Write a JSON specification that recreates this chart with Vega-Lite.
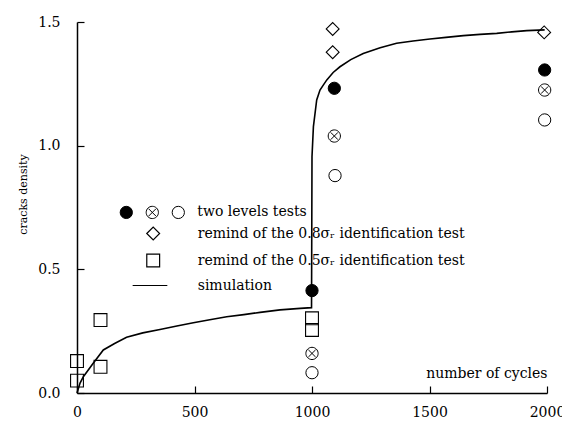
{
  "$schema": "https://vega.github.io/schema/vega-lite/v6.json",
  "width": 470,
  "height": 371,
  "autosize": "none",
  "padding": {"left": 77, "top": 22, "right": 15, "bottom": 30},
  "background": "white",
  "config": {
    "view": {"stroke": null},
    "font": "DejaVu Serif",
    "axis": {
      "grid": false,
      "domainColor": "black",
      "domainWidth": 1.5,
      "tickColor": "black",
      "tickWidth": 1.2,
      "tickSize": -7,
      "labelFont": "DejaVu Serif",
      "labelFontSize": 14,
      "labelColor": "black",
      "titleFont": "DejaVu Serif",
      "titleFontWeight": "normal",
      "titleColor": "black",
      "labelFlush": false,
      "labelOverlap": false
    },
    "legend": {
      "labelFont": "DejaVu Serif",
      "labelFontSize": 14,
      "labelColor": "black",
      "labelLimit": 400,
      "padding": 0,
      "symbolStrokeColor": "black",
      "symbolStrokeWidth": 1,
      "symbolOpacity": 1
    }
  },
  "datasets": {
    "sim": [
      {"cycles": 0, "density": 0},
      {"cycles": 13, "density": 0.04},
      {"cycles": 27, "density": 0.066},
      {"cycles": 69, "density": 0.12},
      {"cycles": 112, "density": 0.174},
      {"cycles": 160, "density": 0.2},
      {"cycles": 211, "density": 0.225},
      {"cycles": 280, "density": 0.243},
      {"cycles": 353, "density": 0.257},
      {"cycles": 425, "density": 0.271},
      {"cycles": 495, "density": 0.284},
      {"cycles": 565, "density": 0.296},
      {"cycles": 637, "density": 0.308},
      {"cycles": 710, "density": 0.317},
      {"cycles": 779, "density": 0.326},
      {"cycles": 864, "density": 0.336},
      {"cycles": 950, "density": 0.342},
      {"cycles": 998, "density": 0.345},
      {"cycles": 1000, "density": 0.955},
      {"cycles": 1006, "density": 1.077},
      {"cycles": 1020, "density": 1.185},
      {"cycles": 1034, "density": 1.225},
      {"cycles": 1048, "density": 1.245},
      {"cycles": 1063, "density": 1.266},
      {"cycles": 1090, "density": 1.296},
      {"cycles": 1119, "density": 1.319},
      {"cycles": 1165, "density": 1.348},
      {"cycles": 1218, "density": 1.373},
      {"cycles": 1290, "density": 1.396},
      {"cycles": 1360, "density": 1.414},
      {"cycles": 1430, "density": 1.423},
      {"cycles": 1502, "density": 1.431},
      {"cycles": 1570, "density": 1.438},
      {"cycles": 1644, "density": 1.445},
      {"cycles": 1715, "density": 1.45},
      {"cycles": 1786, "density": 1.454},
      {"cycles": 1850, "density": 1.46},
      {"cycles": 1914, "density": 1.465},
      {"cycles": 1990, "density": 1.468}
    ],
    "levels": [
      {"cycles": 1000, "density": 0.414, "level": "solid"},
      {"cycles": 1095, "density": 1.232, "level": "solid"},
      {"cycles": 1990, "density": 1.306, "level": "solid"},
      {"cycles": 1000, "density": 0.16, "level": "crossed"},
      {"cycles": 1095, "density": 1.039, "level": "crossed"},
      {"cycles": 1990, "density": 1.225, "level": "crossed"},
      {"cycles": 1000, "density": 0.082, "level": "open"},
      {"cycles": 1098, "density": 0.879, "level": "open"},
      {"cycles": 1990, "density": 1.104, "level": "open"}
    ],
    "remind": [
      {"cycles": 1088, "density": 1.472, "test": "r08"},
      {"cycles": 1088, "density": 1.378, "test": "r08"},
      {"cycles": 1988, "density": 1.458, "test": "r08"},
      {"cycles": 0, "density": 0.129, "test": "r05"},
      {"cycles": 0, "density": 0.05, "test": "r05"},
      {"cycles": 100, "density": 0.295, "test": "r05"},
      {"cycles": 100, "density": 0.106, "test": "r05"},
      {"cycles": 1000, "density": 0.302, "test": "r05"},
      {"cycles": 1000, "density": 0.255, "test": "r05"}
    ]
  },
  "encoding": {
    "x": {
      "field": "cycles",
      "type": "quantitative",
      "scale": {"domain": [0, 2000], "nice": false},
      "axis": {
        "title": "number of cycles",
        "values": [0, 500, 1000, 1500, 2000],
        "format": "d",
        "labelPadding": 19,
        "titleFontSize": 14,
        "titleAnchor": "end",
        "titleAlign": "right",
        "titleBaseline": "alphabetic",
        "titleX": 470,
        "titleY": -16
      }
    },
    "y": {
      "field": "density",
      "type": "quantitative",
      "scale": {"domain": [0, 1.5], "nice": false},
      "axis": {
        "title": "cracks density",
        "values": [0, 0.5, 1, 1.5],
        "format": ".1f",
        "labelPadding": 24,
        "titleFontSize": 11,
        "titleAngle": -90,
        "titleAlign": "center",
        "titleBaseline": "middle",
        "titleX": -54,
        "titleY": 172
      }
    }
  },
  "layer": [
    {
      "data": {"name": "sim"},
      "mark": {"type": "line", "color": "black", "strokeWidth": 1.6}
    },
    {
      "data": {"name": "levels"},
      "mark": {"type": "point", "filled": true, "stroke": "black", "strokeWidth": 1, "size": 150, "opacity": 1},
      "encoding": {
        "shape": {
          "field": "level",
          "type": "nominal",
          "scale": {
            "domain": ["solid", "crossed", "open"],
            "range": ["circle", "M-1,0A1,1,0,1,1,1,0A1,1,0,1,1,-1,0Z M-0.6,-0.6L0.6,0.6 M-0.6,0.6L0.6,-0.6", "circle"]
          },
          "legend": {
            "title": null,
            "orient": "none",
            "direction": "horizontal",
            "legendX": 42.3,
            "legendY": 183,
            "symbolSize": 150,
            "labelOffset": 12,
            "columnPadding": -7.5,
            "labelExpr": "datum.value == 'open' ? 'two levels tests' : ''",
            "encode": {"symbols": {"update": {"stroke": {"value": "black"}, "strokeWidth": {"value": 1}}}}
          }
        },
        "fill": {
          "field": "level",
          "type": "nominal",
          "scale": {"domain": ["solid", "crossed", "open"], "range": ["black", "white", "white"]},
          "legend": {
            "title": null,
            "orient": "none",
            "direction": "horizontal",
            "legendX": 42.3,
            "legendY": 183,
            "symbolSize": 150,
            "labelOffset": 12,
            "columnPadding": -7.5,
            "labelExpr": "datum.value == 'open' ? 'two levels tests' : ''",
            "encode": {"symbols": {"update": {"stroke": {"value": "black"}, "strokeWidth": {"value": 1}}}}
          }
        }
      }
    },
    {
      "data": {"name": "remind"},
      "mark": {"type": "point", "filled": false, "color": "black", "strokeWidth": 1.1, "size": 165, "opacity": 1},
      "encoding": {
        "shape": {
          "field": "test",
          "type": "nominal",
          "scale": {
            "domain": ["r08", "r05", "sim"],
            "range": ["diamond", "square", "M-3.2,0H2.2"]
          },
          "legend": {
            "title": null,
            "orient": "none",
            "direction": "vertical",
            "legendX": 68.7,
            "legendY": 204,
            "symbolSize": 165,
            "symbolStrokeColor": "black",
            "symbolStrokeWidth": 1.2,
            "symbolFillColor": "white",
            "symbolOpacity": 1,
            "labelOffset": 37,
            "rowPadding": 8,
            "labelExpr": "datum.value == 'r08' ? 'remind of the 0.8σᵣ identification test' : datum.value == 'r05' ? 'remind of the 0.5σᵣ identification test' : 'simulation'"
          }
        }
      }
    }
  ],
  "resolve": {"scale": {"shape": "independent", "fill": "independent"}, "legend": {"shape": "independent", "fill": "independent"}}
}
